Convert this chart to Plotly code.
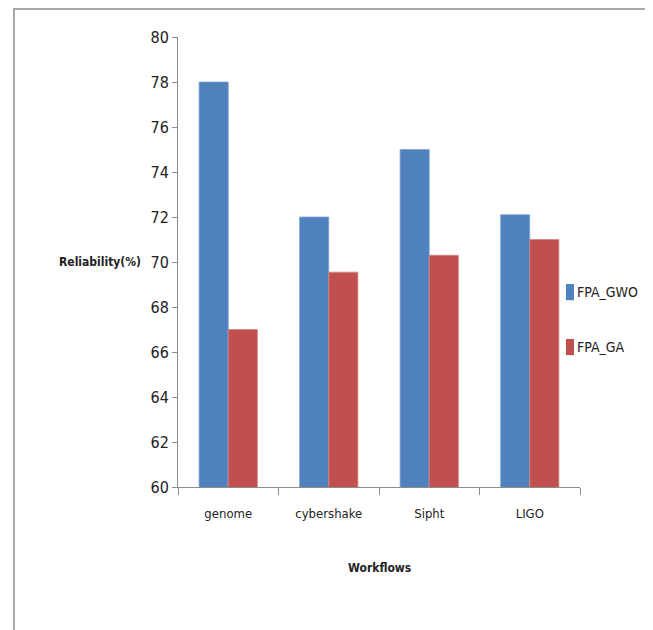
import plotly.graph_objects as go

workflows = ["genome", "cybershake", "Sipht", "LIGO"]
fpa_gwo = [78, 72, 75, 72.1]
fpa_ga = [67, 69.55, 70.3, 71]

FONT = "DejaVu Sans Condensed"
BLUE = "#4F81BD"
RED = "#C0504D"

fig = go.Figure()
fig.add_trace(go.Bar(name="FPA_GWO", x=workflows, y=fpa_gwo,
                     marker=dict(color=BLUE, line=dict(color="#7FA3D3", width=0.8))))
fig.add_trace(go.Bar(name="FPA_GA", x=workflows, y=fpa_ga,
                     marker=dict(color=RED, line=dict(color="#D88583", width=0.8))))

def f(size):
    return dict(size=size, family=FONT, color="#222222")

# legend drawn manually (paper coords) so margins are not pushed
legend_items = [("FPA_GWO", BLUE, 0.433), ("FPA_GA", RED, 0.311)]
ann = [dict(text="<b>Reliability(%)</b>", xref="paper", yref="y",
            x=-0.087, y=70, xanchor="right", yanchor="middle", showarrow=False,
            font=f(12)),
       dict(text="<b>Workflows</b>", xref="paper", yref="paper",
            x=0.5, y=-0.18, xanchor="center", yanchor="middle", showarrow=False,
            font=f(12))]
shapes = [dict(type="rect", xref="paper", yref="paper",
               x0=-0.408, x1=1.164, y0=-0.4, y1=1.062,
               line=dict(color="#8C8C8C", width=1.5))]
for name, col, yp in legend_items:
    shapes.append(dict(type="rect", xref="paper", yref="paper",
                       x0=0.965, x1=0.985, y0=yp - 0.018, y1=yp + 0.018,
                       fillcolor=col, line=dict(width=0)))
    ann.append(dict(text=name, xref="paper", yref="paper", x=0.988, y=yp,
                    xanchor="left", yanchor="middle", showarrow=False, font=f(14)))

fig.update_layout(
    width=645, height=622,
    margin=dict(l=170, r=73, t=29, b=143),
    paper_bgcolor="white", plot_bgcolor="white",
    barmode="group", bargap=0.42, bargroupgap=0,
    font=f(14),
    showlegend=False,
    xaxis=dict(showline=True, linecolor="#8C8C8C", linewidth=1,
               ticks="outside", tickson="boundaries", ticklen=7, tickcolor="#8C8C8C",
               tickfont=f(13), tickangle=0, showgrid=False, automargin=False,
               ticklabelstandoff=14),
    yaxis=dict(range=[60, 80], dtick=2, showline=True, linecolor="#8C8C8C", linewidth=1,
               ticks="outside", ticklen=5, tickcolor="#8C8C8C", showgrid=False,
               tickfont=f(16), zeroline=False, automargin=False),
    annotations=ann,
    shapes=shapes,
)

fig.write_html("out.html")
